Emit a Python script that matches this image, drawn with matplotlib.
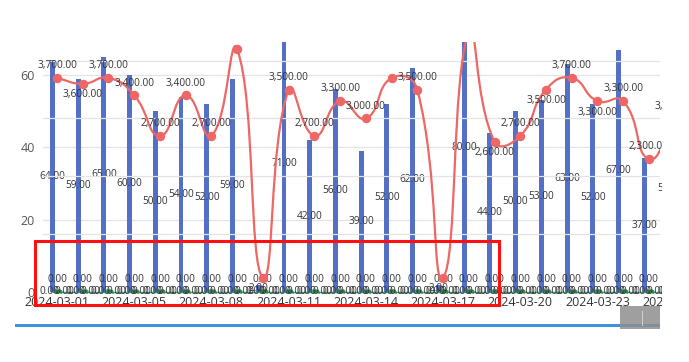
import numpy as np
import matplotlib
matplotlib.use("Agg")
import matplotlib.pyplot as plt
from matplotlib.path import Path
from matplotlib.patches import PathPatch, Rectangle
from matplotlib.transforms import blended_transform_factory

plt.rcParams['font.family'] = ['Open Sans', 'DejaVu Sans']

# ---------------- data ----------------
dates = ["2024-03-01", "2024-03-02", "2024-03-03", "2024-03-05", "2024-03-06",
         "2024-03-07", "2024-03-08", "2024-03-09", "2024-03-10", "2024-03-11",
         "2024-03-12", "2024-03-13", "2024-03-14", "2024-03-15", "2024-03-16",
         "2024-03-17", "2024-03-18", "2024-03-19", "2024-03-20", "2024-03-21",
         "2024-03-22", "2024-03-23", "2024-03-24", "2024-03-25", "2024-03-26"]
bar_values = [64, 59, 65, 60, 50, 54, 52, 59, 2, 71, 42, 56, 39, 52, 62,
              2, 80, 44, 50, 53, 63, 52, 67, 37, 57]
line_values = [3700, 3600, 3700, 3400, 2700, 3400, 2700, 4200, 250, 3500,
               2700, 3300, 3000, 3700, 3500, 250, 4500, 2600, 2700, 3500,
               3700, 3300, 3300, 2300, 3000]
zero_values_a = [0, 0, 0, 0, 0, 0, 0, 0, 0, 0, 0, 0, 0, 0, 0, 0, 0, 0, 0, 0, 0, 0, 0, 0, 0]
zero_values_b = [0, 0, 0, 0, 0, 0, 0, 0, 0, 0, 0, 0, 0, 0, 0, 0, 0, 0, 0, 0, 0, 0, 0, 0, 0]
left_ticks = [0, 20, 40, 60]
right_ticks = [1000, 2000, 3000, 4000]

# label placement for the line series (styles, kept separate)
line_label_pos = ['t', 'b', 't', 't', 't', 't', 't', 'n', 'n', 't',
                  't', 't', 't', 'n', 't', 'n', 'n', 'b', 't', 'b',
                  't', 'b', 't', 't', 't']

# ---------------- figure ----------------
W, H = 689, 362
fig = plt.figure(figsize=(W / 100, H / 100), dpi=100)
fig.patch.set_facecolor('white')


def fx(px):
    return px / W


def fy(py):
    return 1 - py / H


ax = fig.add_axes([fx(43), fy(292), fx(660) - fx(43), fy(42) - fy(292)])
ax.set_facecolor('none')
n = len(dates)
x = np.arange(n)
ax.set_xlim(-0.544, 23.43)
ax.set_ylim(0, 69.1)
ax2 = ax.twinx()
ax2.set_ylim(0, 4322)
ax2.set_facecolor('none')

for a in (ax, ax2):
    for s in a.spines.values():
        s.set_visible(False)

grid_c = '#E3E3E3'
for t in left_ticks:
    ax.axhline(t, color=grid_c, lw=0.9, zorder=0)
for t in right_ticks:
    ax2.axhline(t, color=grid_c, lw=0.9, zorder=0)

ax.set_yticks(left_ticks)
ax.set_yticklabels([str(t) for t in left_ticks])
ax.tick_params(axis='y', length=0, pad=6, labelsize=9, labelcolor='#555555')
ax.set_xticks([])
ax2.set_yticks([])
ax2.set_xticks([])

# x labels every third category (drawn as text so the clipped last one shows)
trans_x = blended_transform_factory(ax.transData, ax.transAxes)
for i in range(0, n, 3):
    ax.text(x[i], 0, dates[i], transform=trans_x, ha='center', va='top',
            fontsize=9, color='#333333', clip_on=False,
            transform_rotates_text=False).set_y(-0.018)

# bars
bar_off = -0.18
ax.bar(x + bar_off, bar_values, width=0.19, color='#5470C6', zorder=2)
for i, v in enumerate(bar_values):
    ax.text(x[i] + bar_off, v / 2, f"{v:.2f}", ha='center', va='center',
            fontsize=7.3, color='#333333', zorder=6, clip_on=False)

# smooth line (ECharts-style bezier smoothing in display space)
pts = ax2.transData.transform(np.column_stack([x, line_values]))
smooth = 0.5
cp_next = []
cp_prev = []
for i in range(n):
    p = pts[i]
    prev = pts[i - 1] if i > 0 else p
    nxt = pts[i + 1] if i < n - 1 else p
    v = nxt - prev
    l0 = np.hypot(*(p - prev))
    l1 = np.hypot(*(nxt - p))
    r = l1 / (l0 + l1) if (l0 + l1) > 0 else 0.5
    cp_next.append(p + v * smooth * r)
    cp_prev.append(p - v * smooth * (1 - r))
verts = [pts[0]]
codes = [Path.MOVETO]
for i in range(n - 1):
    verts += [cp_next[i], cp_prev[i + 1], pts[i + 1]]
    codes += [Path.CURVE4] * 3
verts = ax2.transData.inverted().transform(np.array(verts))
ax2.add_patch(PathPatch(Path(verts, codes), fill=False, edgecolor='#EE6666',
                        lw=1.6, zorder=3))
ax2.plot(x, line_values, 'o', color='#EE6666', ms=5.8, zorder=4)
for i, v in enumerate(line_values):
    pos = line_label_pos[i]
    if pos == 'n':
        continue
    dy = 8.8 if pos == 't' else -8.0
    ax2.annotate(f"{v:,.2f}", (x[i], v), xytext=(0, dy), textcoords='offset points',
                 ha='center', va='center', fontsize=7.3, color='#333333',
                 zorder=6, annotation_clip=False)

# zero-valued series along the axis
ax.plot(x, zero_values_a, color='#3BA272', lw=1.0, zorder=3, clip_on=False)
ax.plot(x - 0.07, zero_values_a, 'o', color='#3BA272', ms=3.6, zorder=4)
ax.plot(x + 0.07, zero_values_b, 'o', color='#2E8B57', ms=3.6, zorder=4)
for i in range(n):
    ax.annotate(f"{zero_values_a[i]:.2f}", (x[i], 0), xytext=(0, 8.8),
                textcoords='offset points', ha='center', va='center',
                fontsize=7.3, color='#333333', zorder=6, annotation_clip=False)
    for off in (-5.5, 5.5):
        ax.annotate(f"{zero_values_b[i]:.2f}", (x[i], 0), xytext=(off, 0),
                    textcoords='offset points', ha='center', va='center',
                    fontsize=7.3, color='#333333', zorder=5, annotation_clip=False)

# cropping of the right-hand side
fig.add_artist(Rectangle((fx(662), 0), 1 - fx(662), 1, transform=fig.transFigure,
                         facecolor='white', edgecolor='none', zorder=10))
# slider bar and handle at the bottom
fig.add_artist(Rectangle((fx(15), fy(327)), fx(660) - fx(15), fy(323.5) - fy(327),
                         transform=fig.transFigure, facecolor='#3F8FE3',
                         edgecolor='none', zorder=-2))
fig.add_artist(Rectangle((fx(620), fy(329)), fx(660) - fx(620), fy(306) - fy(329),
                         transform=fig.transFigure, facecolor='#8E8E8E',
                         edgecolor='none', alpha=0.85, zorder=-1))
fig.add_artist(Rectangle((fx(641.5), fy(326)), fx(1.2), fy(311) - fy(326),
                         transform=fig.transFigure, facecolor='#D0D0D0',
                         edgecolor='none', zorder=-1))
# red annotation box
fig.add_artist(Rectangle((fx(34.5), fy(305)), fx(499.5) - fx(34.5), fy(240.5) - fy(305),
                         transform=fig.transFigure, fill=False, edgecolor='#FF1010',
                         lw=2.2, zorder=11))

fig.savefig('out.png', dpi=100, facecolor='white')
